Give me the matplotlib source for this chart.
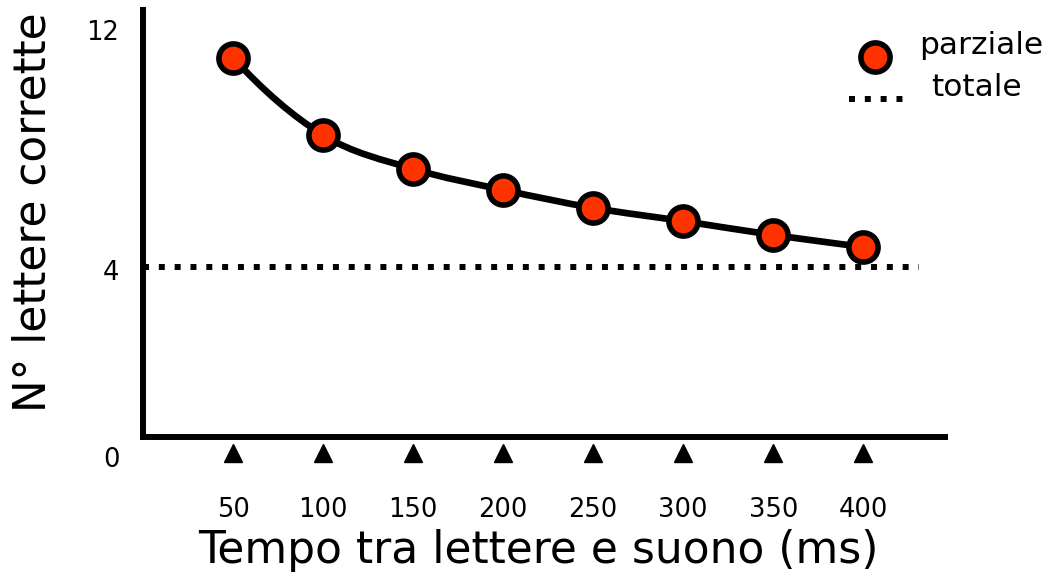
import matplotlib.pyplot as plt
import numpy as np
from matplotlib.path import Path
from matplotlib.patches import PathPatch
from matplotlib.lines import Line2D

# data
tempi = [50, 100, 150, 200, 250, 300, 350, 400]
parziale = [11.08, 8.5, 7.37, 6.67, 6.07, 5.63, 5.17, 4.77]
totale = 4.1
totale_x = [0, 431]
y_ticks = [4, 12]
y_labels = ['4', '12']

rosso = '#ff3300'

fig = plt.figure(figsize=(10.46, 5.75), dpi=100)
ax = fig.add_axes([143 / 1046, 1 - 437 / 575, (945 - 143) / 1046, 427 / 575])

ax.set_xlim(0, 445.4)
ax.set_ylim(-1.567, 12.667)

for s in ['top', 'right']:
    ax.spines[s].set_visible(False)
for s in ['left', 'bottom']:
    ax.spines[s].set_linewidth(4.3)
    ax.spines[s].set_capstyle('projecting')

# smooth curve through the points (hermite tangents -> bezier)
x = np.array(tempi, dtype=float)
y = np.array(parziale)
n = len(x)
m = np.zeros(n)
for i in range(n):
    if i == 0:
        m[i] = (-3 * y[0] + 4 * y[1] - y[2]) / (x[2] - x[0])
    elif i == n - 1:
        m[i] = (3 * y[-1] - 4 * y[-2] + y[-3]) / (x[-1] - x[-3])
    else:
        m[i] = (y[i + 1] - y[i - 1]) / (x[i + 1] - x[i - 1])
verts = [(x[0], y[0])]
codes = [Path.MOVETO]
for i in range(n - 1):
    h = x[i + 1] - x[i]
    verts += [(x[i] + h / 3, y[i] + m[i] * h / 3),
              (x[i + 1] - h / 3, y[i + 1] - m[i + 1] * h / 3),
              (x[i + 1], y[i + 1])]
    codes += [Path.CURVE4] * 3
ax.add_patch(PathPatch(Path(verts, codes), fill=False, lw=4.8, ec='black',
                       capstyle='round', zorder=3))

ax.plot(tempi, parziale, 'o', ms=21, mfc=rosso, mec='black', mew=4,
        zorder=4, clip_on=False)

ax.plot(totale_x, [totale, totale], color='black', lw=4.3,
        linestyle=(0, (1, 1.65)), dash_capstyle='butt', zorder=2)

# x ticks as triangles under the axis
ax.plot(tempi, [-0.038] * len(tempi), '^', color='black', ms=13,
        transform=ax.get_xaxis_transform(), clip_on=False)
ax.set_xticks(tempi)
ax.set_xticklabels([str(t) for t in tempi])
ax.tick_params(axis='x', length=0, pad=43, labelsize=18.5)

ax.set_yticks(y_ticks)
ax.set_yticklabels(y_labels)
ax.tick_params(axis='y', length=0, pad=17, labelsize=18.5)
ax.text(-23 / 1.803, -2.33, '0', fontsize=18.5, ha='right', va='center', clip_on=False)

ax.set_xlabel('Tempo tra lettere e suono (ms)', fontsize=31.7)
ax.xaxis.set_label_coords(0.493, -0.215)
ax.set_ylabel('N° lettere corrette', fontsize=31.5)
ax.yaxis.set_label_coords(-0.11, 0.527)

# legend drawn by hand
fig.add_artist(Line2D([875 / 1046], [1 - 57 / 575], marker='o', ms=21, mfc=rosso,
                      mec='black', mew=4, transform=fig.transFigure))
fig.add_artist(Line2D([849 / 1046, 903 / 1046], [1 - 99 / 575] * 2, color='black', lw=4.3,
                      linestyle=(0, (1, 1.65)), dash_capstyle='butt',
                      transform=fig.transFigure))
fig.text(919 / 1046, 1 - 45 / 575, 'parziale', fontsize=22.5, va='center', ha='left')
fig.text(931 / 1046, 1 - 88 / 575, 'totale', fontsize=22.5, va='center', ha='left')

plt.savefig('out.png', dpi=100)
